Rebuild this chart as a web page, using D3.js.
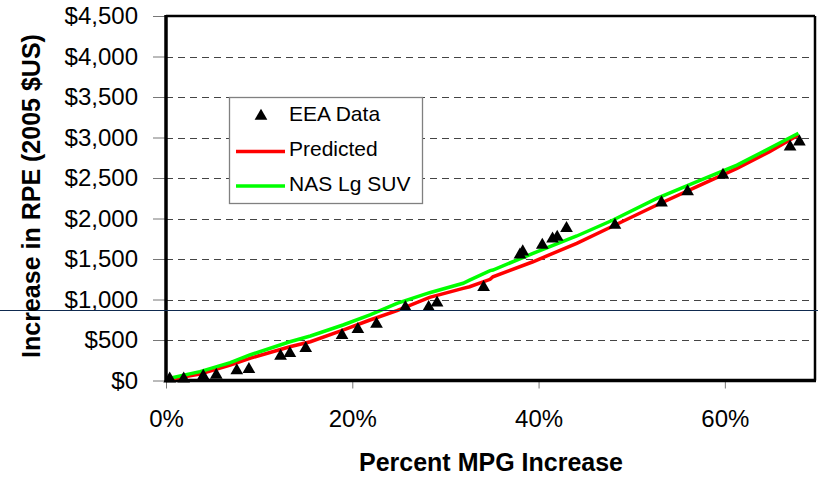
<!DOCTYPE html>
<html>
<head>
<meta charset="utf-8">
<script src="https://cdn.jsdelivr.net/npm/d3@7/dist/d3.min.js"></script>
<style>
  html, body { margin: 0; padding: 0; background: #fff; }
  svg { display: block; }
  text { font-family: "Liberation Sans", Arial, sans-serif; fill: #000; }
</style>
</head>
<body>
<svg id="chart" width="818" height="478"></svg>
<script>
// ---- data (x = fractional MPG increase, y = RPE increase in 2005 $US) ----
const eeaX = [0.004, 0.019, 0.040, 0.054, 0.076, 0.089, 0.123, 0.133, 0.150, 0.189, 0.206, 0.226,
              0.257, 0.282, 0.291, 0.341, 0.380, 0.383, 0.404, 0.415, 0.420, 0.430, 0.482, 0.532,
              0.560, 0.598, 0.670, 0.680];
const eeaY = [20, 20, 55, 68, 121, 138, 302, 336, 397, 558, 632, 697,
              904, 904, 960, 1150, 1550, 1590, 1673, 1750, 1770, 1879, 1920, 2195,
              2331, 2537, 2886, 2948];

const predX = [0.004, 0.0365, 0.069, 0.090, 0.133, 0.155, 0.190, 0.219, 0.248, 0.283, 0.319,
               0.326, 0.348, 0.351, 0.394, 0.441, 0.480, 0.527, 0.570, 0.613, 0.648, 0.679];
const predY = [15, 80, 191, 274, 417, 479, 623, 747, 862, 1027, 1138,
               1158, 1249, 1281, 1466, 1694, 1907, 2167, 2393, 2619, 2825, 3031];

const nasX = [0.004, 0.0365, 0.069, 0.090, 0.133, 0.155, 0.190, 0.219, 0.248, 0.283, 0.319,
              0.326, 0.348, 0.351, 0.394, 0.441, 0.480, 0.527, 0.570, 0.613, 0.648, 0.679];
const nasY = [27, 109, 220, 315, 478, 549, 685, 809, 953, 1084, 1200,
              1240, 1356, 1364, 1570, 1784, 1981, 2249, 2454, 2660, 2867, 3052];

const yTicks = [0, 500, 1000, 1500, 2000, 2500, 3000, 3500, 4000, 4500];
const xTicks = [0, 0.2, 0.4, 0.6];
const legendLabels = ["EEA Data", "Predicted", "NAS Lg SUV"];
const xTitle = "Percent MPG Increase";
const yTitle = "Increase in RPE (2005 $US)";

// ---- drawing ----
const svg = d3.select("#chart");
const L = 166, R = 815, T = 16, B = 380.5;
const x = d3.scaleLinear().domain([0, 0.7]).range([L, 818]);
const y = d3.scaleLinear().domain([0, 4500]).range([B, T]);

// gridlines
svg.append("g").selectAll("line")
  .data(yTicks.filter(v => v > 0 && v < 4500))
  .join("line")
  .attr("x1", L).attr("x2", R)
  .attr("y1", d => Math.round(y(d)) + 0.5).attr("y2", d => Math.round(y(d)) + 0.5)
  .attr("stroke", "#444").attr("stroke-width", 1)
  .attr("stroke-dasharray", "7,5");

// axes
const yAxis = svg.append("g").attr("transform", `translate(${L},0)`)
  .call(d3.axisLeft(y).tickValues(yTicks).tickFormat(d3.format("$,")).tickSize(13).tickPadding(15));
yAxis.select(".domain").remove();
yAxis.selectAll(".tick line").attr("stroke", "#777");
yAxis.selectAll("text").style("font-size", "24px");

const xAxis = svg.append("g").attr("transform", `translate(0,${B})`)
  .call(d3.axisBottom(x).tickValues(xTicks).tickFormat(d3.format(".0%")).tickSize(8).tickPadding(21));
xAxis.select(".domain").remove();
xAxis.selectAll(".tick line").attr("stroke", "#777");
xAxis.selectAll("text").style("font-size", "24px");

// frame
svg.append("line").attr("x1", L).attr("x2", R).attr("y1", T).attr("y2", T)
  .attr("stroke", "#000").attr("stroke-width", 2.5);
svg.append("line").attr("x1", R).attr("x2", R).attr("y1", T).attr("y2", B)
  .attr("stroke", "#000").attr("stroke-width", 2.5);
svg.append("line").attr("x1", L).attr("x2", L).attr("y1", T - 1).attr("y2", B + 1.5)
  .attr("stroke", "#000").attr("stroke-width", 3.5);
svg.append("line").attr("x1", L).attr("x2", R + 1).attr("y1", B).attr("y2", B)
  .attr("stroke", "#000").attr("stroke-width", 3.5);

// lines
const line = d3.line().x(d => x(d[0])).y(d => y(d[1]));
svg.append("path").datum(d3.zip(predX, predY)).attr("d", line)
  .attr("fill", "none").attr("stroke", "#ff0000").attr("stroke-width", 3.5);
svg.append("path").datum(d3.zip(nasX, nasY)).attr("d", line)
  .attr("fill", "none").attr("stroke", "#00ff00").attr("stroke-width", 3.5);

// markers
const tri = d3.symbol().type(d3.symbolTriangle).size(70);
svg.append("g").selectAll("path").data(d3.zip(eeaX, eeaY)).join("path")
  .attr("d", tri)
  .attr("transform", d => `translate(${x(d[0])},${y(d[1])})`)
  .attr("fill", "#000");

// stray horizontal rule across the picture
svg.append("line").attr("x1", 0).attr("x2", 818).attr("y1", 310.5).attr("y2", 310.5)
  .attr("stroke", "#0f2a4f").attr("stroke-width", 1);

// legend
const lg = svg.append("g");
lg.append("rect").attr("x", 229.5).attr("y", 97.5).attr("width", 193).attr("height", 106)
  .attr("fill", "#fff").attr("stroke", "#808080").attr("stroke-width", 1.3);
lg.append("path").attr("d", tri).attr("transform", "translate(261,116)").attr("fill", "#000");
lg.append("line").attr("x1", 236).attr("x2", 285).attr("y1", 151.5).attr("y2", 151.5)
  .attr("stroke", "#ff0000").attr("stroke-width", 3.5);
lg.append("line").attr("x1", 236).attr("x2", 285).attr("y1", 186).attr("y2", 186)
  .attr("stroke", "#00ff00").attr("stroke-width", 3.5);
lg.selectAll("text.lbl").data(legendLabels).join("text").attr("class", "lbl")
  .attr("x", 289).attr("y", (d, i) => 121 + i * 35)
  .style("font-size", "21px").text(d => d);

// titles
svg.append("text").attr("x", 491).attr("y", 471).attr("text-anchor", "middle")
  .style("font-size", "25px").style("font-weight", "bold").text(xTitle);
svg.append("text").attr("transform", "translate(40,196) rotate(-90)").attr("text-anchor", "middle")
  .style("font-size", "25px").style("font-weight", "bold").text(yTitle);
</script>
</body>
</html>
